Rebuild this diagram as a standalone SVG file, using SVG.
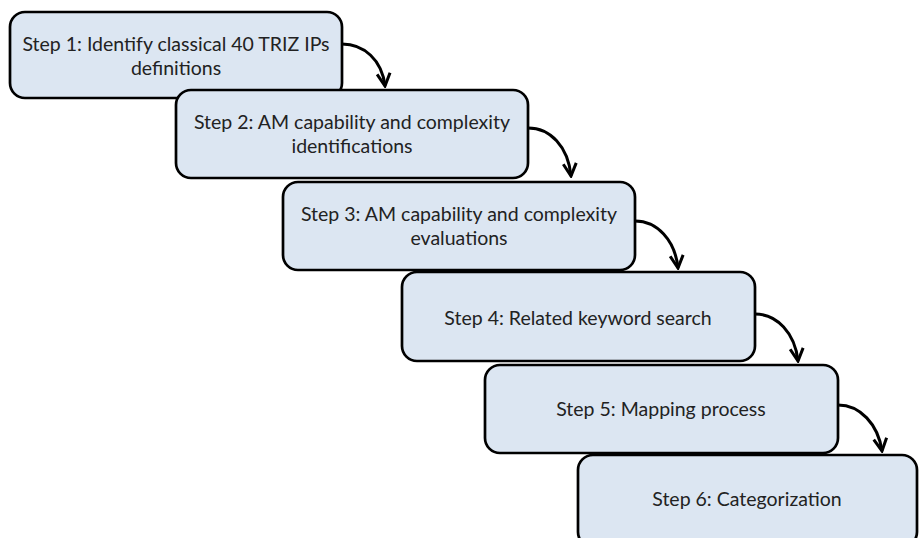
<svg xmlns="http://www.w3.org/2000/svg" width="920" height="538" viewBox="0 0 920 538">
<style>
.box{fill:#dce6f2;stroke:#000;stroke-width:2.7}
.lbl{font-family:Lato,"Liberation Sans",sans-serif;font-size:19.5px;fill:#222;text-anchor:middle}
.conn{fill:none;stroke:#000;stroke-width:3}
</style>
<defs>
<marker id="ah" viewBox="0 0 16 16" refX="14" refY="8" markerWidth="16" markerHeight="16" markerUnits="userSpaceOnUse" orient="auto">
<path d="M1.5,1.5 L14,8 L1.5,14.5" fill="none" stroke="#000" stroke-width="3"/>
</marker>
</defs>
<rect width="920" height="538" fill="#fff"/>
<g id="step1">
<rect class="box" x="10" y="12" width="332" height="86" rx="15"/>
<text class="lbl" x="176" y="51">Step 1: Identify classical 40 TRIZ IPs</text>
<text class="lbl" x="176" y="75">definitions</text>
</g>
<g id="step2">
<rect class="box" x="176" y="90" width="352" height="88" rx="15"/>
<text class="lbl" x="352" y="129">Step 2: AM capability and complexity</text>
<text class="lbl" x="352" y="153">identifications</text>
</g>
<g id="step3">
<rect class="box" x="283" y="182" width="352" height="88" rx="15"/>
<text class="lbl" x="459" y="221">Step 3: AM capability and complexity</text>
<text class="lbl" x="459" y="245">evaluations</text>
</g>
<g id="step4">
<rect class="box" x="402" y="272" width="353" height="89" rx="15"/>
<text class="lbl" x="578" y="325">Step 4: Related keyword search</text>
</g>
<g id="step5">
<rect class="box" x="485" y="365" width="353" height="88" rx="15"/>
<text class="lbl" x="661" y="416">Step 5: Mapping process</text>
</g>
<g id="step6">
<rect class="box" x="578" y="455" width="339" height="92" rx="15"/>
<text class="lbl" x="747" y="506">Step 6: Categorization</text>
</g>
<g id="connectors">
<path class="conn" marker-end="url(#ah)" d="M342,44 C364,44 382,60 385,86"/>
<path class="conn" marker-end="url(#ah)" d="M528,128 C550,128 568,146 571,176"/>
<path class="conn" marker-end="url(#ah)" d="M635,221 C657,221 675,240 678,268"/>
<path class="conn" marker-end="url(#ah)" d="M755,314 C777,314 795,333 798,361"/>
<path class="conn" marker-end="url(#ah)" d="M838,405 C860,405 878,424 882,451"/>
</g>
</svg>
